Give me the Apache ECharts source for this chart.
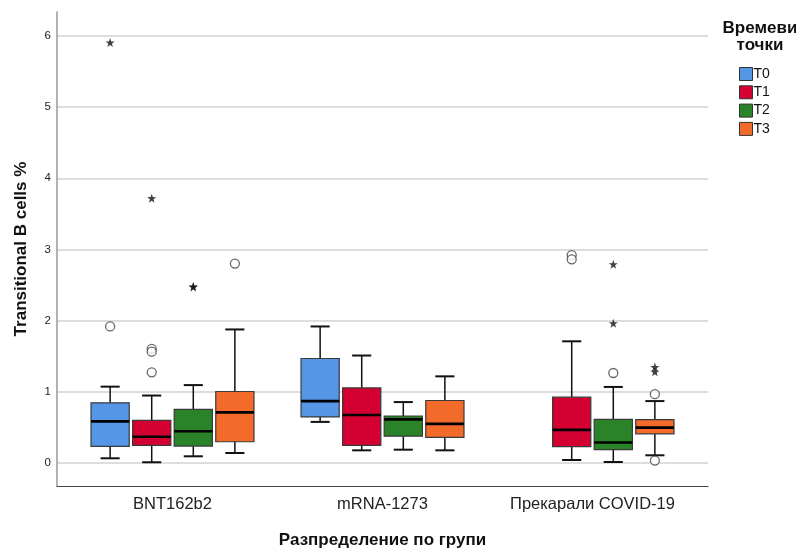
<!DOCTYPE html>
<html>
<head>
<meta charset="utf-8">
<script src="https://cdn.jsdelivr.net/npm/echarts@6/dist/echarts.min.js"></script>
<style>
  html, body { margin: 0; padding: 0; background: #ffffff; }
  #chart { width: 796px; height: 554px; }
</style>
</head>
<body>
<div id="chart"></div>
<script>
// Groups along the x axis and the time points drawn inside each group
const groups = ['BNT162b2', 'mRNA-1273', 'Прекарали COVID-19'];
const timePoints = ['T0', 'T1', 'T2', 'T3'];
const yTicks = [0, 1, 2, 3, 4, 5, 6];

// Box statistics per group: [whisker low, Q1, median, Q3, whisker high]; null = no data
const boxT0 = [[0.06, 0.227, 0.58, 0.84, 1.068], [0.572, 0.642, 0.865, 1.464, 1.915], null];
const boxT1 = [[0.004, 0.241, 0.363, 0.594, 0.943], [0.172, 0.241, 0.669, 1.05, 1.506], [0.036, 0.223, 0.46, 0.92, 1.706]];
const boxT2 = [[0.088, 0.232, 0.44, 0.748, 1.09], [0.181, 0.371, 0.608, 0.655, 0.851], [0.008, 0.181, 0.283, 0.608, 1.064]];
const boxT3 = [[0.134, 0.293, 0.706, 1.0, 1.873], [0.172, 0.353, 0.544, 0.873, 1.213], [0.102, 0.404, 0.492, 0.604, 0.865]];

// Outliers (circles) and extreme values (stars): [group index, value]
const circlesT0 = [[0, 1.915]];
const starsT0 = [[0, 5.91]];
const circlesT1 = [[0, 1.60], [0, 1.56], [0, 1.27], [2, 2.92], [2, 2.86]];
const starsT1 = [[0, 3.72]];
const circlesT2 = [[2, 1.26]];
const starsT2 = [[0, 2.47], [0, 2.48], [2, 1.96], [2, 2.79]];
const circlesT3 = [[0, 2.80], [2, 0.962], [2, 0.028]];
const starsT3 = [[2, 1.343], [2, 1.278]];

const boxes = [boxT0, boxT1, boxT2, boxT3];
const circles = [circlesT0, circlesT1, circlesT2, circlesT3];
const stars = [starsT0, starsT1, starsT2, starsT3];
const colors = ['#5596E6', '#D40032', '#2A8229', '#F26B2B'];

const BOX_WIDTH = 0.182;      // in x-axis units
const BOX_STEP = 0.198;       // spacing between neighbouring boxes
const offsetOf = k => (k - 1.5) * BOX_STEP;

const STAR = 'path://M0,-10L2.35,-3.24L9.51,-3.09L3.8,1.24L5.88,8.09L0,4L-5.88,8.09L-3.8,1.24L-9.51,-3.09L-2.35,-3.24Z';
const FONT = '"Liberation Sans", Arial, sans-serif';

function renderBox(params, api) {
  const x = api.value(0);
  const lo = api.coord([x, api.value(1)]);
  const q1 = api.coord([x, api.value(2)]);
  const md = api.coord([x, api.value(3)]);
  const q3 = api.coord([x, api.value(4)]);
  const hi = api.coord([x, api.value(5)]);
  const w = api.size([BOX_WIDTH, 0])[0];
  const cx = lo[0];
  const cap = w / 2;
  const lineStyle = { stroke: '#111', lineWidth: 1.5 };
  return {
    type: 'group',
    children: [
      { type: 'line', shape: { x1: cx, y1: hi[1], x2: cx, y2: q3[1] }, style: lineStyle },
      { type: 'line', shape: { x1: cx, y1: q1[1], x2: cx, y2: lo[1] }, style: lineStyle },
      { type: 'line', shape: { x1: cx - cap / 2, y1: hi[1], x2: cx + cap / 2, y2: hi[1] }, style: { stroke: '#111', lineWidth: 2 } },
      { type: 'line', shape: { x1: cx - cap / 2, y1: lo[1], x2: cx + cap / 2, y2: lo[1] }, style: { stroke: '#111', lineWidth: 2 } },
      { type: 'rect', shape: { x: cx - w / 2, y: q3[1], width: w, height: q1[1] - q3[1] },
        style: { fill: api.visual('color'), stroke: '#3a3a3a', lineWidth: 1.2 } },
      { type: 'line', shape: { x1: cx - w / 2, y1: md[1], x2: cx + w / 2, y2: md[1] }, style: { stroke: '#000', lineWidth: 2.6 } }
    ]
  };
}

const series = [];
timePoints.forEach((tp, k) => {
  const data = [];
  boxes[k].forEach((s, g) => { if (s) data.push([g + offsetOf(k)].concat(s)); });
  series.push({
    name: tp,
    type: 'custom',
    renderItem: renderBox,
    itemStyle: { color: colors[k] },
    encode: { x: 0, y: [1, 2, 3, 4, 5] },
    data: data,
    z: 2
  });
  series.push({
    name: tp + ' outliers',
    type: 'scatter',
    symbol: 'circle',
    symbolSize: 9,
    itemStyle: { color: '#ffffff', borderColor: '#444', borderWidth: 1.3 },
    data: circles[k].map(p => [p[0] + offsetOf(k), p[1]]),
    z: 3
  });
  series.push({
    name: tp + ' extremes',
    type: 'scatter',
    symbol: STAR,
    symbolSize: 9,
    itemStyle: { color: '#111' },
    data: stars[k].map(p => [p[0] + offsetOf(k), p[1]]),
    z: 3
  });
});

const chart = echarts.init(document.getElementById('chart'), null, { renderer: 'canvas' });
chart.setOption({
  animation: false,
  backgroundColor: '#ffffff',
  title: {
    text: 'Времеви\nточки',
    left: 755,
    top: 15,
    textAlign: 'center',
    textStyle: { fontFamily: FONT, fontSize: 17, fontWeight: 'bold', lineHeight: 17, color: '#111' }
  },
  legend: {
    data: timePoints.map(t => ({ name: t, icon: 'rect' })),
    orient: 'vertical',
    left: 734,
    top: 62,
    itemWidth: 13,
    itemHeight: 13,
    itemGap: 4.3,
    selectedMode: false,
    itemStyle: { borderColor: '#333', borderWidth: 1 },
    textStyle: { fontFamily: FONT, fontSize: 14, color: '#111', padding: [0, 0, 0, -4] }
  },
  grid: { left: 57, right: 88, top: 12, bottom: 64, containLabel: false },
  xAxis: {
    type: 'value',
    min: -0.55,
    max: 2.55,
    name: 'Разпределение по групи',
    nameLocation: 'middle',
    nameGap: 46,
    nameTextStyle: { fontFamily: FONT, fontSize: 17, fontWeight: 'bold', color: '#111' },
    axisLine: { show: true, onZero: false, lineStyle: { color: '#444', width: 1.2 } },
    axisTick: { show: false },
    splitLine: { show: false },
    axisLabel: {
      customValues: [0, 1, 2],
      formatter: v => groups[Math.round(v)],
      margin: 10,
      fontFamily: FONT,
      fontSize: 16.5,
      color: '#222'
    }
  },
  yAxis: {
    type: 'value',
    min: -0.33,
    max: 6.34,
    name: 'Transitional B cells %',
    nameLocation: 'middle',
    nameGap: 27,
    nameRotate: 90,
    nameTextStyle: { fontFamily: FONT, fontSize: 17, fontWeight: 'bold', color: '#111' },
    axisLine: { show: true, onZero: false, lineStyle: { color: '#999', width: 1.5 } },
    axisTick: { show: false, customValues: yTicks },
    axisLabel: { customValues: yTicks, margin: 6, fontFamily: FONT, fontSize: 11.5, color: '#222' },
    splitLine: { show: true, lineStyle: { color: '#d2d2d2', width: 1.6 } }
  },
  series: series
});
</script>
</body>
</html>
